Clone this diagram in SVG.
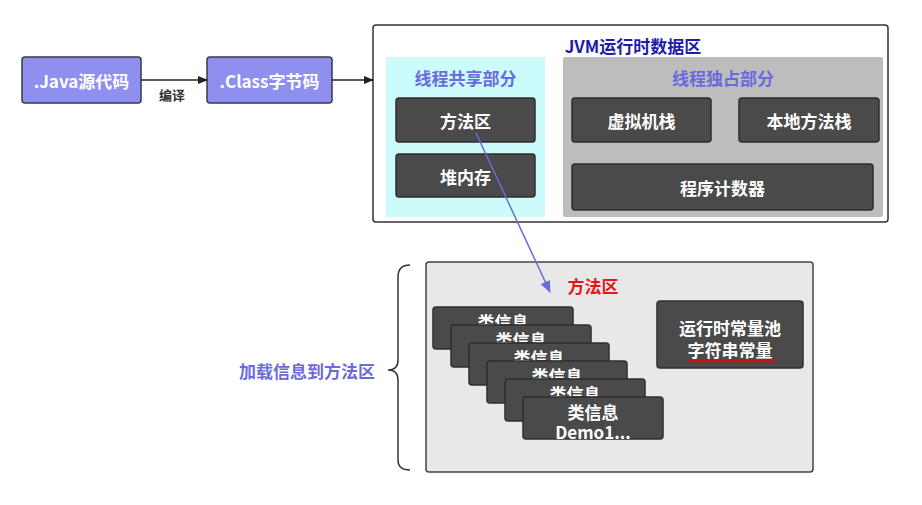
<svg xmlns="http://www.w3.org/2000/svg" width="922" height="505" viewBox="0 0 922 505">
<defs>
<style>
text{font-family:"Noto Sans CJK SC","Liberation Sans",sans-serif;font-weight:bold;text-anchor:middle;dominant-baseline:central}
.src{fill:#8f8ff0;stroke:#3a3a4a;stroke-width:1.5}
.dk{fill:#4a4a4a;stroke:#2e2e2e;stroke-width:1.5}
.wt{fill:#fff;font-size:17px}
.bl{fill:#6a6adc;font-size:17px}
</style>
<marker id="ah" markerWidth="10" markerHeight="10" refX="9" refY="5" orient="auto" markerUnits="userSpaceOnUse">
<path d="M0,1 L10,5 L0,9 Z" fill="#222"/>
</marker>
<marker id="ahb" markerWidth="12" markerHeight="12" refX="11" refY="6" orient="auto" markerUnits="userSpaceOnUse">
<path d="M0,1 L12,6 L0,11 Z" fill="#6a6adc"/>
</marker>
</defs>
<rect width="922" height="505" fill="#fff"/>

<g id="java">
<rect class="src" x="22" y="57" width="119" height="46" rx="3"/>
<text class="wt" x="81.5" y="80">.Java源代码</text>
</g>
<g id="class">
<rect class="src" x="207" y="57" width="125" height="46" rx="3"/>
<text class="wt" x="269.5" y="80">.Class字节码</text>
</g>

<g id="jvm">
<rect x="373" y="25" width="515" height="197" rx="3" fill="#fff" stroke="#333" stroke-width="1.5"/>
<text x="633" y="45" fill="#1c1ca8" font-size="17">JVM运行时数据区</text>
</g>
<g id="shared">
<rect x="386" y="57" width="159" height="160" fill="#ccfbfc"/>
<text class="bl" x="465.5" y="77">线程共享部分</text>
</g>
<g id="exclusive">
<rect x="563" y="57" width="320" height="160" fill="#bdbdbd" rx="2"/>
<text class="bl" x="723" y="77">线程独占部分</text>
</g>
<g id="fangfaqu">
<rect class="dk" x="396" y="98" width="139" height="44" rx="3"/>
<text class="wt" x="465.5" y="120">方法区</text>
</g>
<g id="heap">
<rect class="dk" x="396" y="154" width="139" height="43" rx="3"/>
<text class="wt" x="465.5" y="176">堆内存</text>
</g>
<g id="vmstack">
<rect class="dk" x="572" y="98" width="139" height="44" rx="3"/>
<text class="wt" x="641.5" y="120">虚拟机栈</text>
</g>
<g id="nativestack">
<rect class="dk" x="739" y="98" width="140" height="44" rx="3"/>
<text class="wt" x="809" y="120">本地方法栈</text>
</g>
<g id="pc">
<rect class="dk" x="572" y="164" width="301" height="46" rx="3"/>
<text class="wt" x="722.5" y="187">程序计数器</text>
</g>

<g id="methodarea">
<rect x="426" y="262" width="387" height="210" rx="3" fill="#e8e8e8" stroke="#444" stroke-width="1.5"/>
<text x="593" y="285" fill="#e01818" font-size="17">方法区</text>
</g>
<g id="classinfo1">
<rect class="dk" x="433" y="307" width="140" height="42" rx="3"/>
<text class="wt" x="503" y="321">类信息</text>
</g>
<g id="classinfo2">
<rect class="dk" x="451" y="325" width="140" height="42" rx="3"/>
<text class="wt" x="521" y="339">类信息</text>
</g>
<g id="classinfo3">
<rect class="dk" x="469" y="343" width="140" height="42" rx="3"/>
<text class="wt" x="539" y="357">类信息</text>
</g>
<g id="classinfo4">
<rect class="dk" x="487" y="361" width="140" height="42" rx="3"/>
<text class="wt" x="557" y="375">类信息</text>
</g>
<g id="classinfo5">
<rect class="dk" x="505" y="379" width="140" height="42" rx="3"/>
<text class="wt" x="575" y="393">类信息</text>
</g>
<g id="classinfo6">
<rect class="dk" x="523" y="397" width="140" height="42" rx="3"/>
<text class="wt" x="593" y="411">类信息</text>
<text class="wt" x="593" y="431">Demo1...</text>
</g>
<g id="constpool">
<rect class="dk" x="657" y="301" width="146" height="67" rx="3"/>
<text class="wt" x="730" y="327">运行时常量池</text>
<text class="wt" x="730" y="349">字符串常量</text>
<line x1="688" y1="361" x2="775" y2="361" stroke="#c01818" stroke-width="2.5"/>
</g>

<g id="loadlabel">
<text class="bl" x="307" y="370">加载信息到方法区</text>
<path d="M410,265 Q398,265 398,277 L398,360 Q398,370 388,370 Q398,370 398,380 L398,460 Q398,470 410,470" fill="none" stroke="#333" stroke-width="1.5"/>
</g>

<g id="connectors">
<line x1="141" y1="80" x2="207" y2="80" stroke="#222" stroke-width="1.5" marker-end="url(#ah)"/>
<text x="172" y="94" fill="#333" font-size="13">编译</text>
<line x1="332" y1="80" x2="373" y2="80" stroke="#222" stroke-width="1.5" marker-end="url(#ah)"/>
<line x1="476" y1="133" x2="550" y2="292" stroke="#6a6adc" stroke-width="1.5" marker-end="url(#ahb)"/>
</g>
</svg>
